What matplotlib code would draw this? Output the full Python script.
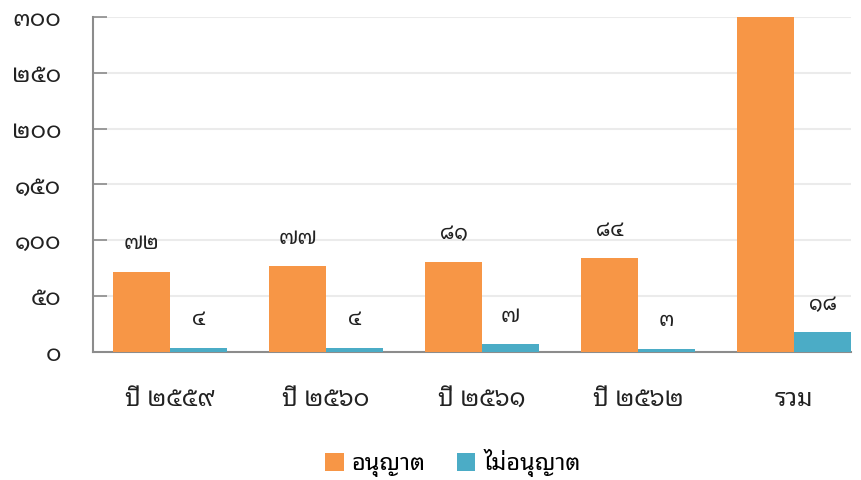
import numpy as np
import matplotlib
matplotlib.use("Agg")
import matplotlib.pyplot as plt

FONT = "Noto Sans Thai Looped"
plt.rcParams["font.family"] = [FONT, "DejaVu Sans"]

ORANGE = "#F79646"
BLUE = "#4BACC6"
GRID = "#EBEBEB"
AXIS = "#8C8C8C"
INK = "#222222"

categories = ["ปี ๒๕๕๙", "ปี ๒๕๖๐", "ปี ๒๕๖๑", "ปี ๒๕๖๒", "รวม"]
allowed = [72, 77, 81, 84, 314]
not_allowed = [4, 4, 7, 3, 18]
series_names = ["อนุญาต", "ไม่อนุญาต"]
y_ticks = [0, 50, 100, 150, 200, 250, 300]

THAI = str.maketrans("0123456789", "๐๑๒๓๔๕๖๗๘๙")


def th(n):
    return str(n).translate(THAI)


x = np.arange(len(categories))
w = 0.365

fig = plt.figure(figsize=(8.61, 4.8), dpi=100)
ax = fig.add_axes([0.108, 0.2667, 0.8804, 0.6979])

b1 = ax.bar(x - w / 2, allowed, w, color=ORANGE, label=series_names[0], zorder=3)
b2 = ax.bar(x + w / 2, not_allowed, w, color=BLUE, label=series_names[1], zorder=3)

# value labels; the clipped total bar keeps its label off-chart like the source
for bars, vals in ((b1, allowed), (b2, not_allowed)):
    for r, v in zip(bars, vals):
        ax.annotate(th(v), (r.get_x() + r.get_width() / 2, v),
                    textcoords="offset points", xytext=(0, 20),
                    ha="center", va="center", fontsize=15, color=INK)

ax.set_xlim(-0.494, 4.365)
ax.set_ylim(0, 300)
ax.set_yticks(y_ticks)
ax.set_yticklabels([th(t) for t in y_ticks])
ax.set_xticks(x)
ax.set_xticklabels(categories)
ax.yaxis.grid(True, color=GRID, linewidth=1.5, zorder=0)
ax.set_axisbelow(True)

ax.tick_params(axis="y", direction="in", length=10, width=1.2, color=AXIS,
               labelsize=17, labelcolor=INK, pad=23)
ax.tick_params(axis="x", length=0, labelsize=17.5, labelcolor=INK, pad=26)
for s in ("top", "right"):
    ax.spines[s].set_visible(False)
for s in ("left", "bottom"):
    ax.spines[s].set_color(AXIS)
    ax.spines[s].set_linewidth(1.5)

fig.legend(handles=[b1, b2], labels=series_names, loc="center",
           bbox_to_anchor=(0.526, 0.035), ncol=2, frameon=False,
           fontsize=17, handlelength=0.8, handleheight=0.8,
           handletextpad=0.35, columnspacing=1.3)

fig.savefig("out.png", dpi=100)
